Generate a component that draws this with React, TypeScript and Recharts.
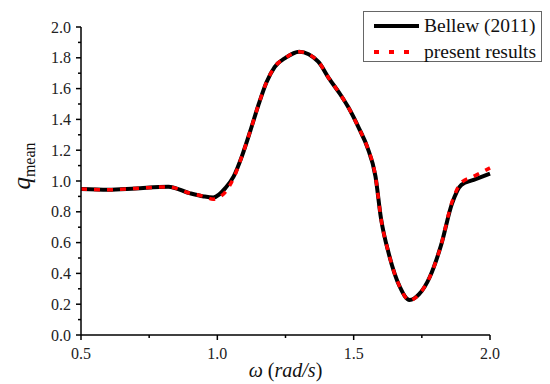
import React from "react"
import { Line, LineChart, XAxis, YAxis } from "recharts"

// omega (rad/s) sample points
const omega = [
  0.5, 0.6, 0.7, 0.82, 0.9, 0.95, 0.985, 1.03, 1.06, 1.09, 1.12, 1.15, 1.18, 1.21, 1.25, 1.3, 1.37,
  1.41, 1.45, 1.48, 1.52, 1.55, 1.58, 1.6, 1.63, 1.67, 1.705, 1.74, 1.78, 1.82, 1.86, 1.895, 1.94, 2.0,
]
const bellew = [
  0.948, 0.943, 0.952, 0.963, 0.92, 0.9, 0.893, 0.955, 1.03, 1.16, 1.32, 1.49, 1.64, 1.74, 1.8, 1.84,
  1.775, 1.665, 1.565, 1.48, 1.34, 1.22, 1.03, 0.76, 0.52, 0.31, 0.227, 0.265, 0.38, 0.58, 0.85, 0.975,
  1.007, 1.048,
]
const present = [
  0.948, 0.943, 0.952, 0.962, 0.92, 0.9, 0.882, 0.93, 1.02, 1.16, 1.32, 1.49, 1.64, 1.74, 1.8, 1.84,
  1.775, 1.665, 1.565, 1.48, 1.34, 1.22, 1.03, 0.76, 0.52, 0.31, 0.225, 0.265, 0.38, 0.58, 0.86, 0.99,
  1.03, 1.085,
]
const xTicks = [0.5, 0.75, 1.0, 1.25, 1.5, 1.75, 2.0]
const xLabels = [0.5, 1.0, 1.5, 2.0]
const yTicks = [
  0, 0.1, 0.2, 0.3, 0.4, 0.5, 0.6, 0.7, 0.8, 0.9, 1.0, 1.1, 1.2, 1.3, 1.4, 1.5, 1.6, 1.7, 1.8, 1.9, 2.0,
]

const data = omega.map((w, i) => ({ w, bellew: bellew[i], present: present[i] }))

const FONT = '"Liberation Serif", "Times New Roman", serif'
const tickText = { fontFamily: FONT, fontSize: 16, fill: "#222" }

const isMajorY = (v: number) => Math.round(v * 10) % 2 === 0

function YTick(props: any) {
  const { x, y, payload } = props
  const major = isMajorY(payload.value)
  return (
    <g>
      <line x1={x - (major ? 5 : 3)} x2={x} y1={y} y2={y} stroke="#000" strokeWidth={1.5} />
      {major && (
        <text x={x - 10} y={y + 5.5} textAnchor="end" style={tickText}>
          {payload.value.toFixed(1)}
        </text>
      )}
    </g>
  )
}

function XTick(props: any) {
  const { x, y, payload } = props
  const major = xLabels.includes(payload.value)
  return (
    <g>
      <line x1={x} x2={x} y1={y} y2={y + (major ? 5 : 3)} stroke="#000" strokeWidth={1.5} />
      {major && (
        <text x={x} y={y + 23.5} textAnchor="middle" style={tickText}>
          {payload.value.toFixed(1)}
        </text>
      )}
    </g>
  )
}

export default function App() {
  return (
    <div style={{ position: "relative", width: 540, height: 376 }}>
      <LineChart width={540} height={376} data={data} margin={{ top: 19, right: 58, bottom: 0, left: 0 }}>
        <XAxis
          dataKey="w"
          type="number"
          domain={[0.5, 2]}
          ticks={xTicks}
          interval={0}
          height={49}
          tickSize={0}
          tickMargin={0}
          tickLine={false}
          axisLine={{ stroke: "#000", strokeWidth: 1.5 }}
          tick={<XTick />}
          label={{
            content: () => (
              <text x={277.5} y={369} textAnchor="middle" style={{ fontFamily: FONT, fontSize: 20, fill: "#111" }}>
                <tspan fontStyle="italic">ω</tspan>
                <tspan> (</tspan>
                <tspan fontStyle="italic">rad/s</tspan>
                <tspan>)</tspan>
              </text>
            ),
          }}
        />
        <YAxis
          type="number"
          domain={[0, 2]}
          ticks={yTicks}
          interval={0}
          width={73}
          tickSize={0}
          tickMargin={0}
          tickLine={false}
          axisLine={{ stroke: "#000", strokeWidth: 1.5 }}
          tick={<YTick />}
          label={{
            content: () => (
              <text
                transform="translate(22,158) rotate(-90)"
                textAnchor="middle"
                style={{ fontFamily: FONT, fill: "#111" }}
              >
                <tspan fontSize={25} fontStyle="italic">q</tspan>
                <tspan fontSize={16} dy={5}>mean</tspan>
              </text>
            ),
          }}
        />
        <Line
          dataKey="bellew"
          type="monotone"
          stroke="#000"
          strokeWidth={4}
          dot={false}
          isAnimationActive={false}
        />
        <Line
          dataKey="present"
          type="monotone"
          stroke="#ff0000"
          strokeWidth={3.5}
          strokeDasharray="6 7"
          dot={false}
          isAnimationActive={false}
        />
      </LineChart>
      <div
        style={{
          position: "absolute",
          left: 355,
          top: 3,
          width: 177,
          height: 49,
          border: "1px solid #666",
          background: "#fff",
          fontFamily: FONT,
          fontSize: 19.5,
          color: "#111",
        }}
      >
        <svg width={60} height={49} style={{ position: "absolute", left: 0, top: 0 }}>
          <line x1={10} x2={55} y1={14} y2={14} stroke="#000" strokeWidth={4} />
          <line x1={10} x2={55} y1={40} y2={40} stroke="#ff0000" strokeWidth={4} strokeDasharray="5 10" />
        </svg>
        <div style={{ position: "absolute", left: 60, top: 2, lineHeight: "24px", whiteSpace: "nowrap" }}>
          Bellew (2011)
        </div>
        <div style={{ position: "absolute", left: 60, top: 28, lineHeight: "24px", whiteSpace: "nowrap" }}>
          present results
        </div>
      </div>
    </div>
  )
}
